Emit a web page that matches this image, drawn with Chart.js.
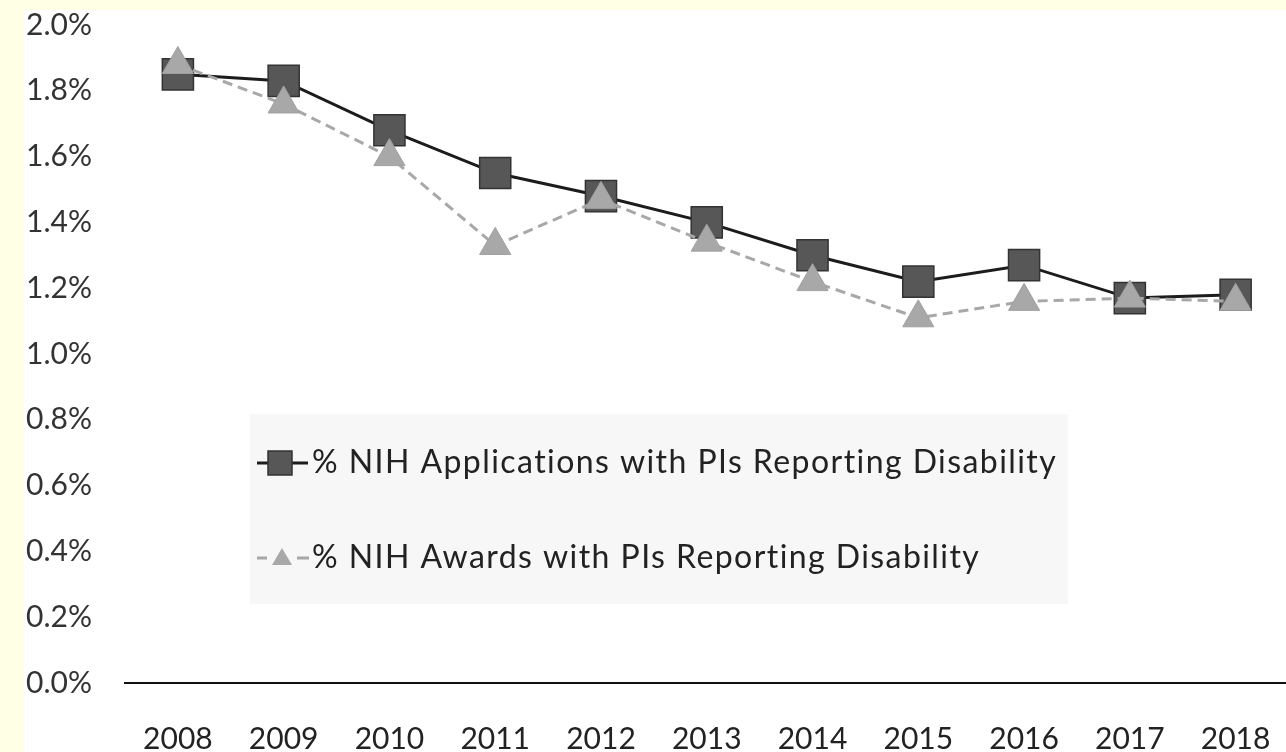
<!DOCTYPE html>
<html>
<head>
<meta charset="utf-8">
<title>NIH PIs reporting disability</title>
<script src="https://cdn.jsdelivr.net/npm/chart.js@4.4.1/dist/chart.umd.min.js"></script>
<style>
  body { margin: 0; background: #ffffe6; overflow: hidden; }
  #sheet { position: absolute; left: 24px; top: 10px; right: 0; bottom: 0; background: #fff; }
  #chart { position: absolute; left: 0; top: -26px; }
</style>
</head>
<body>
<div id="sheet"></div>
<canvas id="chart" width="1312" height="786"></canvas>
<script>
// data (percent)
const years = ["2008", "2009", "2010", "2011", "2012", "2013", "2014", "2015", "2016", "2017", "2018"];
const applications = [1.85, 1.83, 1.68, 1.55, 1.48, 1.40, 1.30, 1.22, 1.27, 1.17, 1.18];
const awards = [1.88, 1.76, 1.60, 1.33, 1.47, 1.34, 1.22, 1.11, 1.16, 1.17, 1.16];
const appLabel = "% NIH Applications with PIs Reporting Disability";
const awardLabel = "% NIH Awards with PIs Reporting Disability";

Chart.defaults.font.family = "Lato, 'Open Sans', sans-serif";
Chart.defaults.color = "#333";

// legend sits inside the plot in a light grey box
const boxLegend = {
  id: "boxLegend",
  afterDraw(chart) {
    const ctx = chart.ctx;
    const ca = chart.chartArea;
    const ds = chart.data.datasets;
    const bx = ca.left + 125;
    const by = ca.top + 389;
    ctx.save();
    ctx.fillStyle = "#f7f7f7";
    ctx.fillRect(bx, by, 818, 190);

    ctx.font = "32px Lato";
    ctx.textBaseline = "middle";
    // stretch the letters a bit so the row fills the box like the original
    const w = ctx.measureText(ds[0].label).width;
    ctx.letterSpacing = Math.max(0, (745 - w) / (ds[0].label.length - 1)).toFixed(2) + "px";

    // row 1: solid line + square
    let y = by + 49;
    ctx.strokeStyle = ds[0].borderColor;
    ctx.lineWidth = 3;
    ctx.beginPath();
    ctx.moveTo(bx + 7, y);
    ctx.lineTo(bx + 58, y);
    ctx.stroke();
    ctx.fillStyle = ds[0].pointBackgroundColor;
    ctx.strokeStyle = ds[0].pointBorderColor;
    ctx.lineWidth = 1.5;
    ctx.fillRect(bx + 18, y - 12, 24, 24);
    ctx.strokeRect(bx + 18, y - 12, 24, 24);
    ctx.fillStyle = "#222";
    ctx.fillText(ds[0].label, bx + 62, y);

    // row 2: dashes + triangle
    y = by + 144;
    ctx.strokeStyle = ds[1].borderColor;
    ctx.lineWidth = 3;
    ctx.beginPath();
    ctx.moveTo(bx + 7, y);
    ctx.lineTo(bx + 17, y);
    ctx.moveTo(bx + 47, y);
    ctx.lineTo(bx + 59, y);
    ctx.stroke();
    ctx.fillStyle = ds[1].pointBackgroundColor;
    ctx.beginPath();
    ctx.moveTo(bx + 32, y - 10);
    ctx.lineTo(bx + 42, y + 7);
    ctx.lineTo(bx + 22, y + 7);
    ctx.closePath();
    ctx.fill();
    ctx.fillStyle = "#222";
    ctx.fillText(ds[1].label, bx + 62, y);
    ctx.restore();
  }
};

new Chart(document.getElementById("chart"), {
  type: "line",
  data: {
    labels: years,
    datasets: [
      {
        label: appLabel,
        data: applications,
        borderColor: "#1c1c1c",
        borderWidth: 3,
        pointStyle: "rect",
        pointRadius: 22,
        pointBackgroundColor: "#575757",
        pointBorderColor: "#333",
        pointBorderWidth: 1.5,
        order: 2
      },
      {
        label: awardLabel,
        data: awards,
        borderColor: "#a8a8a8",
        borderWidth: 3,
        borderDash: [10, 6],
        pointStyle: "triangle",
        pointRadius: 18,
        pointBackgroundColor: "#a8a8a8",
        pointBorderColor: "#a0a0a0",
        pointBorderWidth: 1,
        order: 1
      }
    ]
  },
  options: {
    responsive: false,
    animation: false,
    layout: { padding: { left: 0, top: 0, right: 12, bottom: 0 } },
    plugins: {
      legend: { display: false },
      tooltip: { enabled: false }
    },
    scales: {
      x: {
        offset: true,
        grid: { display: false, drawTicks: false },
        border: { display: true, color: "#111", width: 2 },
        ticks: { padding: 38, font: { size: 30 }, color: "#222" },
        afterFit: (s) => { s.height = 77; }
      },
      y: {
        min: 0,
        max: 2.0,
        grid: { display: false, drawTicks: false },
        border: { display: false },
        ticks: {
          stepSize: 0.2,
          padding: 33,
          font: { size: 30 },
          color: "#333",
          callback: (v) => v.toFixed(1) + "%"
        },
        afterFit: (s) => { s.width = 125; }
      }
    }
  },
  plugins: [boxLegend]
});
</script>
</body>
</html>
